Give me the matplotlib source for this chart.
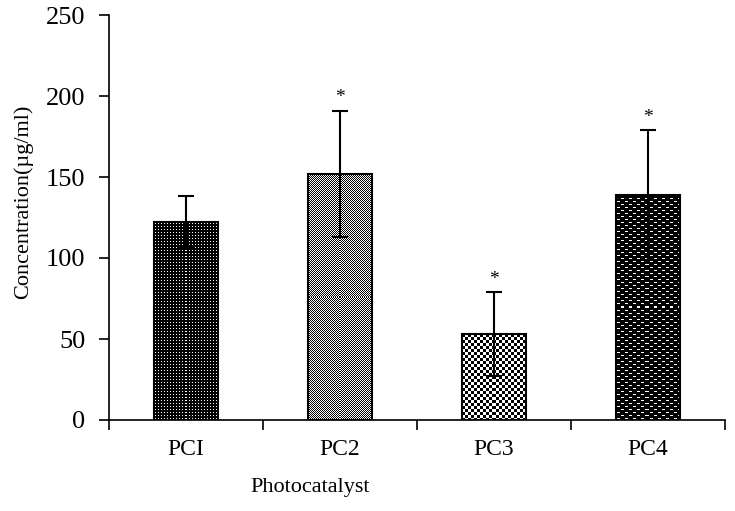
import numpy as np
import matplotlib
matplotlib.use("Agg")
import matplotlib.pyplot as plt

plt.rcParams['font.family'] = ['Liberation Serif', 'DejaVu Serif']

# data
categories = ['PCI', 'PC2', 'PC3', 'PC4']
means = [122, 152, 53, 139]
errors = [16, 39, 26, 40]
significant = [False, True, True, True]

# fill textures for each bar (0 = black, 1 = white)
tiles = [
    np.array([[0, 0, 0],
              [0, 1, 0],
              [0, 0, 0]]),
    np.array([[0, 1],
              [1, 0]]),
    np.kron(np.array([[0, 1], [1, 0]]), np.ones((3, 3))),
    np.array([[0, 0, 0, 0, 0, 0, 0, 0],
              [0, 1, 1, 1, 0, 0, 0, 0],
              [0, 0, 0, 0, 0, 0, 0, 0],
              [0, 0, 0, 0, 0, 0, 0, 0],
              [0, 0, 0, 0, 0, 1, 1, 1],
              [0, 0, 0, 0, 0, 0, 0, 0]]),
]

fig = plt.figure(figsize=(7.35, 5.11), dpi=100)
ax = fig.add_axes([109 / 735, 1 - 420 / 511, 616 / 735, 405 / 511])

x = np.arange(len(categories))
ax.set_xlim(-0.5, len(categories) - 0.5)
ax.set_ylim(0, 250)

bars = ax.bar(x, means, width=0.41, facecolor='none', edgecolor='black',
              linewidth=1.5, zorder=3)

# paint the texture inside each bar
for bar, tile in zip(bars, tiles):
    x0, y0 = bar.get_x(), 0
    x1, y1 = bar.get_x() + bar.get_width(), bar.get_height()
    p0 = ax.transData.transform((x0, y0))
    p1 = ax.transData.transform((x1, y1))
    w_px = int(round(abs(p1[0] - p0[0])))
    h_px = int(round(abs(p1[1] - p0[1])))
    reps = (h_px // tile.shape[0] + 1, w_px // tile.shape[1] + 1)
    img = np.tile(tile, reps)[:h_px, :w_px]
    ax.imshow(img, cmap='gray', vmin=0, vmax=1, extent=(x0, x1, y0, y1),
              interpolation='nearest', aspect='auto', zorder=2, origin='upper')

ax.errorbar(x, means, yerr=errors, fmt='none', ecolor='black', elinewidth=1.5,
            capsize=6, capthick=1.5, zorder=4)

for xi, m, e, s in zip(x, means, errors, significant):
    if s:
        ax.annotate('*', (xi, m + e), xytext=(0, 3), textcoords='offset points',
                    ha='center', va='bottom', fontsize=14)

ax.set_xlim(-0.5, len(categories) - 0.5)
ax.set_ylim(0, 250)

# category boundaries as major ticks, labels on minor ticks
ax.set_xticks(np.arange(-0.5, len(categories), 1.0))
ax.set_xticklabels([])
ax.set_xticks(x, minor=True)
ax.set_xticklabels(categories, minor=True)
ax.tick_params(axis='x', which='major', direction='out', length=7, width=1.2)
ax.tick_params(axis='x', which='minor', length=0, pad=14, labelsize=17)
ax.set_yticks(np.arange(0, 251, 50))
ax.tick_params(axis='y', direction='out', length=7, width=1.2, pad=10, labelsize=19)

ax.spines['top'].set_visible(False)
ax.spines['right'].set_visible(False)
ax.spines['left'].set_linewidth(1.2)
ax.spines['bottom'].set_linewidth(1.2)

ax.set_xlabel('Photocatalyst', fontsize=16)
ax.xaxis.set_label_coords((310 - 109) / 616, -(478 - 420) / 405)
ax.set_ylabel('Concentration(µg/ml)', fontsize=16)
ax.yaxis.set_label_coords(-(109 - 33) / 616, (420 - 202) / 405)

fig.savefig('out.png', dpi=100)
